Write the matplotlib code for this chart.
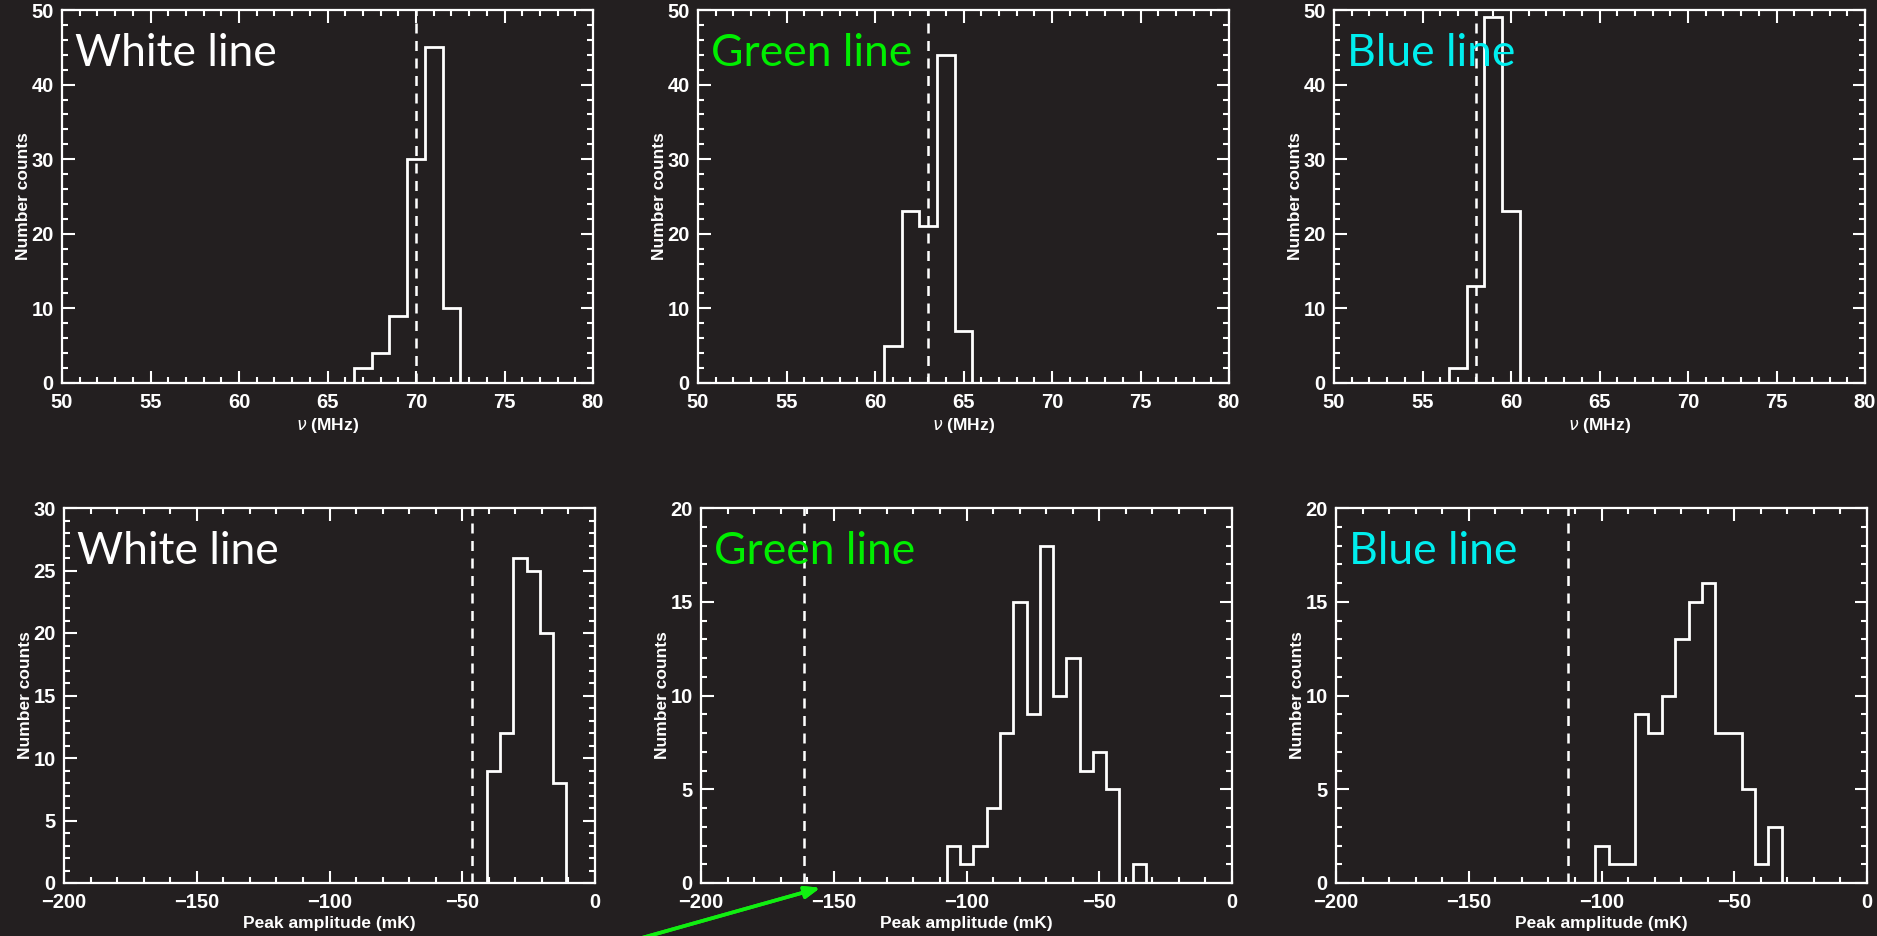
import numpy as np
import matplotlib.pyplot as plt
from matplotlib.ticker import MultipleLocator

# line frequency histograms (MHz)
white_nu_edges = [66.5, 67.5, 68.5, 69.5, 70.5, 71.5, 72.5]
white_nu_counts = [2, 4, 9, 30, 45, 10]
white_nu_mark = 70.0

green_nu_edges = [60.5, 61.5, 62.5, 63.5, 64.5, 65.5]
green_nu_counts = [5, 23, 21, 44, 7]
green_nu_mark = 63.0

blue_nu_edges = [56.5, 57.5, 58.5, 59.5, 60.5]
blue_nu_counts = [2, 13, 49, 23]
blue_nu_mark = 58.0

# peak amplitude histograms (mK)
white_amp_edges = [-40.8, -35.8, -30.8, -25.8, -20.8, -15.8, -10.8]
white_amp_counts = [9, 12, 26, 25, 20, 8]
white_amp_mark = -46.5

green_amp_edges = [-107.4, -102.4, -97.4, -92.4, -87.4, -82.4, -77.4, -72.4,
                   -67.4, -62.4, -57.4, -52.4, -47.4, -42.4, -37.4, -32.4]
green_amp_counts = [2, 1, 2, 4, 8, 15, 9, 18, 10, 12, 6, 7, 5, 0, 1]
green_amp_mark = -161.3

blue_amp_edges = [-102.3, -97.3, -92.3, -87.3, -82.3, -77.2, -72.2, -67.2,
                  -62.1, -57.1, -52.1, -47.1, -42.1, -37.1, -32.0]
blue_amp_counts = [2, 1, 1, 9, 8, 10, 13, 15, 16, 8, 8, 5, 1, 3]
blue_amp_mark = -112.6

names = ['White line', 'Green line', 'Blue line']
name_colors = ['white', '#00ee00', '#00eeee']

bg = '#231f20'
fig = plt.figure(figsize=(18.77, 9.36), dpi=100, facecolor=bg)

lefts_top = [62, 698, 1334]
lefts_bot = [64, 701, 1336]
width = 531
H, W = 936, 1877

tick_font = dict(family='Liberation Sans', weight='bold', size=14.5)


def style(ax, xmaj, xmin, ymaj, ymin):
    ax.set_facecolor(bg)
    for s in ax.spines.values():
        s.set_color('white')
        s.set_linewidth(1.6)
    ax.xaxis.set_major_locator(MultipleLocator(xmaj))
    ax.xaxis.set_minor_locator(MultipleLocator(xmin))
    ax.yaxis.set_major_locator(MultipleLocator(ymaj))
    ax.yaxis.set_minor_locator(MultipleLocator(ymin))
    ax.tick_params(which='both', direction='in', top=True, right=True,
                   colors='white', width=1.5)
    ax.tick_params(which='major', length=9)
    ax.tick_params(which='minor', length=4.5)
    ax.tick_params(axis='x', pad=7)
    ax.tick_params(axis='y', pad=6)
    for lab in ax.get_xticklabels() + ax.get_yticklabels():
        lab.set_fontfamily(tick_font['family'])
        lab.set_fontweight(tick_font['weight'])
        lab.set_fontsize(tick_font['size'])
    ax.set_ylabel('Number counts', color='white', fontsize=12.5,
                  fontweight='bold', family='Liberation Sans', labelpad=0)


top_data = [(white_nu_edges, white_nu_counts, white_nu_mark),
            (green_nu_edges, green_nu_counts, green_nu_mark),
            (blue_nu_edges, blue_nu_counts, blue_nu_mark)]
bot_data = [(white_amp_edges, white_amp_counts, white_amp_mark),
            (green_amp_edges, green_amp_counts, green_amp_mark),
            (blue_amp_edges, blue_amp_counts, blue_amp_mark)]
bot_ylims = [30, 20, 20]

for i in range(3):
    # top row: frequency
    ax = fig.add_axes([lefts_top[i] / W, 1 - 383 / H, width / W, 373 / H])
    edges, counts, mark = top_data[i]
    ax.stairs(counts, edges, baseline=0, color='white', lw=2)
    ax.axvline(mark, color='white', lw=1.8, ls=(0, (4, 3)))
    ax.set_xlim(50, 80)
    ax.set_ylim(0, 50)
    style(ax, 5, 1, 10, 2)
    ax.set_xlabel(r'$\nu$ (MHz)', color='white', fontsize=12.5,
                  fontweight='bold', family='Liberation Sans', labelpad=3)
    ax.text(0.025, 0.85, names[i], transform=ax.transAxes, color=name_colors[i],
            fontsize=32, family='Lato', va='baseline')

    # bottom row: peak amplitude
    ax = fig.add_axes([lefts_bot[i] / W, 1 - 883 / H, width / W, 375 / H])
    edges, counts, mark = bot_data[i]
    ax.stairs(counts, edges, baseline=0, color='white', lw=2)
    ax.axvline(mark, color='white', lw=1.8, ls=(0, (4, 3)))
    ax.set_xlim(-200, 0)
    ax.set_ylim(0, bot_ylims[i])
    style(ax, 50, 10, 5, 1)
    ax.set_xlabel('Peak amplitude (mK)', color='white', fontsize=12.5,
                  fontweight='bold', family='Liberation Sans', labelpad=3)
    ax.text(0.025, 0.85, names[i], transform=ax.transAxes, color=name_colors[i],
            fontsize=32, family='Lato', va='baseline')

# pointer to the green amplitude threshold
fig.add_artist(plt.annotate('', xy=(823 / W, 1 - 887 / H), xytext=(632 / W, -0.005),
                            xycoords='figure fraction', textcoords='figure fraction',
                            arrowprops=dict(arrowstyle='-|>,head_length=0.9,head_width=0.35',
                                            color='#11ee11', lw=2.6)))

fig.savefig('out.png', facecolor=bg)
